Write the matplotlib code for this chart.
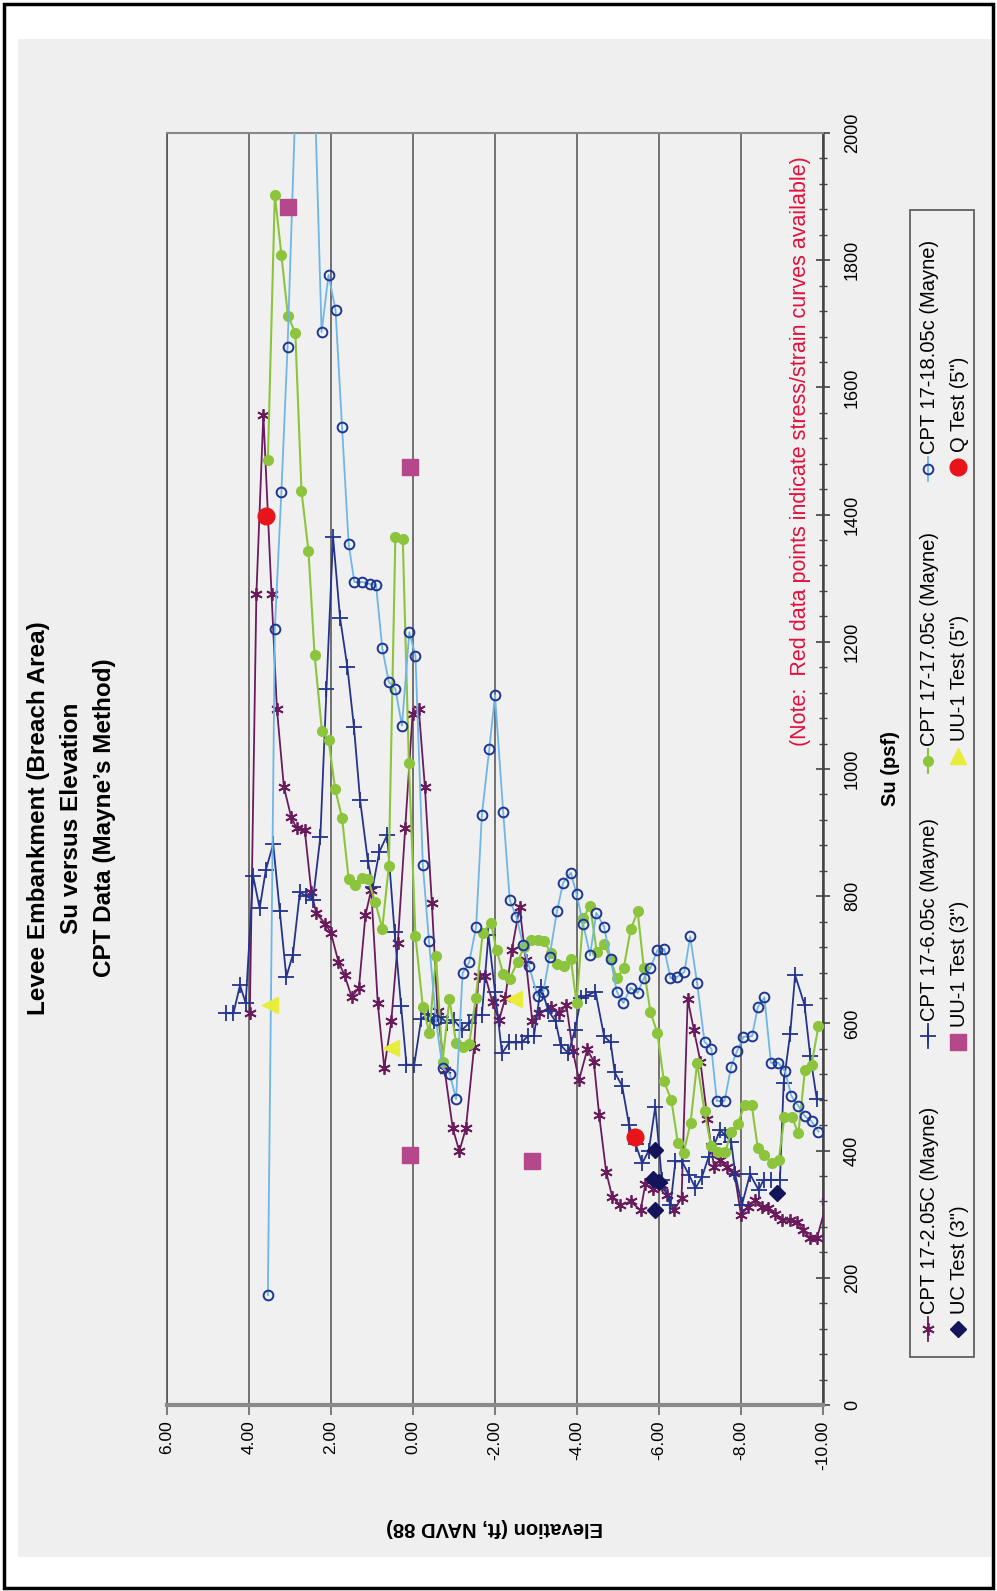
import matplotlib
matplotlib.use("Agg")
import matplotlib.pyplot as plt
from matplotlib.lines import Line2D
from matplotlib.patches import Rectangle
from matplotlib.ticker import MultipleLocator

plt.rcParams['font.family'] = ['Liberation Sans', 'DejaVu Sans']

# figure size in pixels, the chart is drawn turned a quarter turn
W, H = 997, 1591

# CPT 17-2.05C (Mayne)
cpt2_elev = [3.98, 3.82, 3.65, 3.45, 3.32, 3.15, 2.97, 2.84, 2.64, 2.48, 2.36, 2.14, 2.00, 1.82,
             1.67, 1.50, 1.32, 1.16, 1.02, 0.86, 0.70, 0.53, 0.37, 0.19, 0.01, -0.14, -0.29, -0.46,
             -0.60, -0.77, -0.97, -1.13, -1.29, -1.49, -1.60, -1.76, -1.94, -2.10, -2.25, -2.41,
             -2.60, -2.75, -2.91, -3.08, -3.36, -3.56, -3.74, -3.90, -4.05, -4.25, -4.41, -4.54,
             -4.71, -4.86, -5.06, -5.31, -5.55, -5.67, -5.85, -6.07, -6.20, -6.36, -6.55, -6.70,
             -6.85, -7.01, -7.18, -7.34, -7.49, -7.65, -7.84, -8.00, -8.18, -8.34, -8.50, -8.66,
             -8.82, -8.99, -9.19, -9.36, -9.52, -9.68, -9.85, -10.1]
cpt2_su = [616, 1275, 1557, 1275, 1095, 972, 924, 907, 904, 807, 773, 757, 742, 697,
           676, 642, 655, 770, 810, 632, 530, 603, 727, 907, 1087, 1095, 972, 789,
           619, 527, 435, 399, 435, 563, 675, 675, 633, 605, 640, 715,
           783, 700, 603, 616, 626, 616, 629, 556, 511, 559, 540, 456,
           367, 327, 314, 320, 306, 348, 340, 346, 330, 306, 325, 638,
           590, 540, 450, 375, 385, 375, 364, 299, 312, 322, 312, 310,
           301, 291, 291, 288, 275, 262, 262, 320]

# CPT 17-6.05c (Mayne)
cpt6_elev = [4.56, 4.38, 4.22, 4.08, 3.90, 3.74, 3.59, 3.41, 3.25, 3.09, 2.93, 2.76, 2.60, 2.44,
             2.26, 2.11, 1.95, 1.78, 1.60, 1.44, 1.29, 1.10, 0.98, 0.82, 0.63, 0.45, 0.29, 0.16,
             -0.03, -0.20, -0.36, -0.52, -0.68, -0.84, -1.00, -1.20, -1.36, -1.52, -1.68, -1.84,
             -2.00, -2.17, -2.35, -2.50, -2.65, -2.80, -2.95, -3.12, -3.30, -3.48, -3.60, -3.79,
             -3.95, -4.10, -4.21, -4.45, -4.66, -4.82, -4.92, -5.10, -5.27, -5.43, -5.59, -5.75,
             -5.91, -6.07, -6.28, -6.40, -6.56, -6.73, -6.89, -7.05, -7.21, -7.35, -7.49, -7.62,
             -7.76, -7.86, -8.02, -8.22, -8.43, -8.55, -8.73, -8.95, -9.04, -9.20, -9.32, -9.55,
             -9.69, -9.85]
cpt6_su = [616, 616, 660, 632, 832, 781, 841, 882, 777, 673, 708, 806, 800, 794,
           893, 1126, 1365, 1238, 1160, 1066, 951, 855, 815, 870, 896, 744, 627, 535,
           535, 607, 615, 603, 610, 600, 605, 590, 600, 613, 613, 739,
           650, 553, 570, 570, 570, 580, 580, 658, 620, 603, 566, 553,
           590, 640, 643, 650, 580, 570, 523, 502, 440, 410, 380, 400,
           469, 354, 314, 383, 383, 362, 341, 359, 390, 410, 432, 424,
           414, 363, 314, 363, 338, 354, 354, 354, 506, 584, 676, 629,
           548, 481]

# CPT 17-17.05c (Mayne)
cpt17_elev = [3.54, 3.37, 3.21, 3.05, 2.87, 2.72, 2.55, 2.40, 2.22, 2.06, 1.90, 1.73, 1.57, 1.41,
              1.25, 1.10, 0.92, 0.75, 0.59, 0.43, 0.25, 0.10, -0.06, -0.24, -0.40, -0.56, -0.72,
              -0.89, -1.05, -1.21, -1.37, -1.53, -1.70, -1.90, -2.04, -2.20, -2.36, -2.55, -2.71,
              -2.87, -3.04, -3.20, -3.36, -3.52, -3.68, -3.85, -3.99, -4.15, -4.32, -4.48, -4.66,
              -4.82, -4.97, -5.14, -5.31, -5.48, -5.63, -5.79, -5.96, -6.12, -6.30, -6.46, -6.60,
              -6.77, -6.93, -7.11, -7.27, -7.44, -7.62, -7.76, -7.92, -8.09, -8.26, -8.41, -8.57,
              -8.75, -8.92, -9.06, -9.24, -9.40, -9.56, -9.72, -9.89]
cpt17_su = [1486, 1903, 1808, 1712, 1686, 1437, 1343, 1179, 1059, 1046, 969, 923, 827, 817,
            828, 827, 791, 749, 847, 1365, 1362, 1009, 737, 626, 585, 706, 540,
            638, 569, 563, 567, 640, 742, 758, 715, 678, 670, 697, 720,
            731, 731, 729, 711, 694, 690, 701, 632, 766, 785, 713, 725,
            701, 671, 687, 748, 776, 687, 618, 585, 509, 480, 412, 396,
            444, 538, 462, 407, 398, 398, 430, 442, 472, 472, 404, 393,
            380, 385, 453, 453, 427, 527, 535, 596]

# CPT 17-18.05c (Mayne)
cpt18_elev = [3.54, 3.37, 3.21, 3.06, 2.72, 2.56, 2.40, 2.23, 2.06, 1.89, 1.73, 1.57, 1.43, 1.24,
              1.06, 0.90, 0.75, 0.59, 0.43, 0.27, 0.09, -0.06, -0.24, -0.39, -0.56, -0.72, -0.90,
              -1.05, -1.21, -1.37, -1.54, -1.68, -1.86, -2.00, -2.20, -2.36, -2.52, -2.69, -2.83,
              -3.04, -3.18, -3.33, -3.51, -3.66, -3.85, -3.99, -4.15, -4.32, -4.47, -4.66, -4.82,
              -4.97, -5.13, -5.31, -5.48, -5.63, -5.79, -5.96, -6.13, -6.28, -6.44, -6.62, -6.76,
              -6.93, -7.11, -7.28, -7.41, -7.60, -7.76, -7.90, -8.06, -8.27, -8.41, -8.57, -8.73,
              -8.91, -9.07, -9.23, -9.40, -9.56, -9.72, -9.89]
cpt18_su = [173, 1220, 1436, 1663, 2340, 2500, 2070, 1687, 1777, 1722, 1537, 1354, 1294, 1294,
            1291, 1289, 1190, 1137, 1126, 1068, 1215, 1178, 849, 729, 605, 530, 520,
            481, 679, 696, 752, 928, 1031, 1116, 932, 794, 768, 723, 690,
            643, 650, 705, 776, 821, 837, 803, 756, 707, 774, 752, 701,
            650, 632, 656, 648, 671, 687, 715, 717, 671, 673, 681, 737,
            663, 571, 560, 478, 478, 532, 556, 579, 580, 626, 641, 538,
            538, 525, 486, 470, 454, 446, 430]

# laboratory tests
uc3_elev = [-5.91, -5.86, -6.00, -5.91, -8.89]
uc3_su = [401, 355, 350, 306, 334]
uu3_elev = [3.06, 0.07, 0.07, -2.91]
uu3_su = [1884, 1475, 393, 383]
uu5_elev = [3.49, 0.53, -2.47]
uu5_su = [629, 561, 638]
q5_elev = [3.58, -5.41]
q5_su = [1398, 422]

elev_ticks = [6, 4, 2, 0, -2, -4, -6, -8, -10]
su_ticks = list(range(0, 2001, 200))

title_lines = ["Levee Embankment (Breach Area)", "Su versus Elevation", "CPT Data (Mayne\u2019s Method)"]
note = "(Note:  Red data points indicate stress/strain curves available)"

PURPLE = '#6a1b5c'
NAVY = '#24338c'
GREEN = '#8cc43c'
LBLUE = '#6fb6e6'
CIRC = '#1f3590'


def fx(x):
    return x / W


def fy(y):
    return 1 - y / H


fig = plt.figure(figsize=(W / 100, H / 100), dpi=100)
fig.patch.set_facecolor('white')
fig.add_artist(Rectangle((fx(18), fy(1557)), fx(991) - fx(18), fy(39) - fy(1557),
                         facecolor='#efefef', edgecolor='none', zorder=0))
fig.add_artist(Rectangle((fx(4), fy(1588)), fx(993) - fx(4), fy(4) - fy(1588),
                         fill=False, edgecolor='black', linewidth=2.5, zorder=5))

ax = fig.add_axes([fx(167), fy(1405), fx(823) - fx(167), fy(133) - fy(1405)])
ax.set_facecolor('#f0f0f0')
ax.set_xlim(6, -10)
ax.set_ylim(0, 2000)

styles = dict(
    cpt2=dict(color=PURPLE, lw=1.3, marker=(6, 2, 0), ms=9, mec=PURPLE, mew=1.3),
    cpt6=dict(color=NAVY, lw=1.3, marker='+', ms=11, mec=NAVY, mew=1.3),
    cpt17=dict(color=GREEN, lw=1.5, marker='o', ms=7, mfc=GREEN, mec=GREEN),
    cpt18=dict(color=LBLUE, lw=1.3, marker='o', ms=7, mfc='none', mec=CIRC, mew=1.4),
    uc3=dict(ls='none', marker='D', ms=8, color='#14145a'),
    uu3=dict(ls='none', marker='s', ms=11, color='#b5488a'),
    uu5=dict(ls='none', marker='<', ms=11, color='#e8ec3a'),
    q5=dict(ls='none', marker='o', ms=12, color='#e8141a'),
)

ax.plot(cpt2_elev, cpt2_su, **styles['cpt2'], zorder=3)
ax.plot(cpt6_elev, cpt6_su, **styles['cpt6'], zorder=3)
ax.plot(cpt17_elev, cpt17_su, **styles['cpt17'], zorder=3)
ax.plot(cpt18_elev, cpt18_su, **styles['cpt18'], zorder=3)
ax.plot(uc3_elev, uc3_su, **styles['uc3'], zorder=4)
ax.plot(uu3_elev, uu3_su, **styles['uu3'], zorder=4)
ax.plot(uu5_elev, uu5_su, **styles['uu5'], zorder=4)
ax.plot(q5_elev, q5_su, **styles['q5'], zorder=4)

# grid lines are horizontal in the upright chart, vertical here
ax.set_xticks(elev_ticks)
ax.set_xticklabels(['%.2f' % v for v in elev_ticks], rotation=90, fontsize=12.5)
ax.grid(axis='x', color='#5a5a5a', lw=1.2)
ax.tick_params(axis='x', direction='out', length=7, width=1.2, color='#666666', pad=4)

ax.yaxis.tick_right()
ax.set_yticks(su_ticks)
ax.set_yticklabels([str(v) for v in su_ticks], rotation=90, va='center', fontsize=13)
ax.yaxis.set_minor_locator(MultipleLocator(40))
ax.tick_params(axis='y', which='major', direction='inout', length=10, width=1.2, color='#444444', pad=10)
ax.tick_params(axis='y', which='minor', direction='inout', length=6, width=1.0, color='#444444')

ax.spines['left'].set_color('#555555')
ax.spines['left'].set_linewidth(1.2)
ax.spines['top'].set_color('#888888')
ax.spines['top'].set_linewidth(1.5)
ax.spines['right'].set_color('#444444')
ax.spines['right'].set_linewidth(1.8)
ax.spines['bottom'].set_color('#8a8a8a')
ax.spines['bottom'].set_linewidth(3)

ax.text(-9.45, 1500, note, rotation=90, ha='center', va='center', color='#e0103c', fontsize=15.5)

# axis titles
fig.text(fx(495), fy(1527), "Elevation (ft, NAVD 88)", rotation=180, ha='center', va='center',
         fontsize=14.5, fontweight='bold')
fig.text(fx(890), fy(768), "Su (psf)", rotation=90, ha='center', va='center',
         fontsize=14.5, fontweight='bold')

# chart title, three lines
for xpos, line in zip([39, 72, 105], title_lines):
    fig.text(fx(xpos), fy(818), line, rotation=90, ha='center', va='center',
             fontsize=17.5, fontweight='bold')

# legend drawn turned along with the chart
fig.add_artist(Rectangle((fx(910), fy(1357)), fx(974) - fx(910), fy(210) - fy(1357),
                         facecolor='#f0f0f0', edgecolor='#555555', linewidth=1.2, zorder=5))
legend_rows = [
    (928, [(1329, 'CPT 17-2.05C (Mayne)', 'cpt2'), (1036, 'CPT 17-6.05c (Mayne)', 'cpt6'),
           (761, 'CPT 17-17.05c (Mayne)', 'cpt17'), (469, 'CPT 17-18.05c (Mayne)', 'cpt18')]),
    (958, [(1329, 'UC Test (3")', 'uc3'), (1042, 'UU-1 Test (3")', 'uu3'),
           (756, 'UU-1 Test (5")', 'uu5'), (467, 'Q Test (5")', 'q5')]),
]
for xpos, entries in legend_rows:
    for ypos, label, key in entries:
        st = dict(styles[key])
        if st.get('marker') == '<':
            st['marker'] = '^'
        if st.get('ls') == 'none':
            ln = Line2D([fx(xpos)], [fy(ypos)], transform=fig.transFigure, **st)
        else:
            ln = Line2D([fx(xpos), fx(xpos), fx(xpos)], [fy(ypos + 12), fy(ypos), fy(ypos - 12)],
                        transform=fig.transFigure, markevery=[1], **st)
        ln.set_zorder(6)
        fig.add_artist(ln)
        fig.text(fx(xpos + 1), fy(ypos - 15), label, rotation=90, ha='center', va='bottom',
                 fontsize=14.5, zorder=6)

fig.savefig('out.png', dpi=100, facecolor='white')
